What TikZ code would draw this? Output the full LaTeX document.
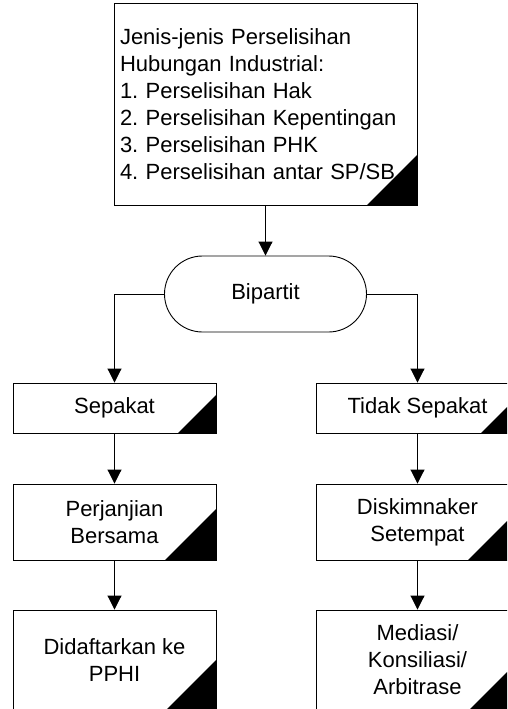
\documentclass[tikz,border=0pt]{standalone}
\usepackage{fontspec}
\setmainfont{Liberation Sans}
\usetikzlibrary{arrows.meta}
\newcommand\diagfont{\fontsize{22pt}{27pt}\selectfont\frenchspacing}
\tikzset{
  line/.style={line width=0.9pt, draw=black},
  arr/.style={line, -{Triangle[width=14pt,length=14pt]}},
  stepbox/.style={line, rectangle, minimum width=203pt, align=center,
    inner sep=0pt, font=\diagfont},
  corner/.style={path picture={
    \fill ([xshift=-#1]path picture bounding box.south east)
      -- (path picture bounding box.south east)
      -- ([yshift=#1]path picture bounding box.south east) -- cycle;}},
  terminal/.style={line, rectangle, rounded corners=38pt, minimum width=202pt,
    minimum height=76pt, font=\diagfont, inner sep=0pt},
}
\begin{document}
\begin{tikzpicture}[x=1pt,y=-1pt]
  \useasboundingbox (0,0) rectangle (507,709);
  \clip (0,0) rectangle (507,709);
  \fill[white] (0,0) rectangle (507,709);

  % list of dispute types
  \node[line, rectangle, corner=50pt, text width=291pt, inner xsep=6pt,
        inner ysep=0pt, minimum height=202pt, align=left, font=\diagfont]
    (types) at (265.5,104)
    {Jenis-jenis Perselisihan\\Hubungan Industrial:\\1. Perselisihan Hak\\
     2. Perselisihan Kepentingan\\3. Perselisihan PHK\\4. Perselisihan antar SP/SB};

  % bipartite negotiation
  \node[terminal] (bip) at (265.5,294) {Bipartit};

  % agreement branch
  \node[stepbox, corner=38pt, minimum height=50pt] (sep) at (114.5,408) {Sepakat};
  \node[stepbox, corner=51pt, minimum height=76pt] (perj) at (114.5,522) {Perjanjian\\Bersama};
  \node[stepbox, corner=50pt, minimum height=100pt] (daf) at (114.5,660) {Didaftarkan ke\\PPHI};

  % disagreement branch
  \node[stepbox, corner=38pt, minimum height=50pt] (tsep) at (417.5,408) {Tidak Sepakat};
  \node[stepbox, corner=51pt, minimum height=76pt] (disk) at (417.5,522) {Diskimnaker\\Setempat};
  \node[stepbox, corner=50pt, minimum height=100pt] (med) at (417.5,660) {Mediasi/\\Konsiliasi/\\Arbitrase};

  % connectors
  \draw[arr] (types.south) -- (bip.north);
  \draw[arr] (bip.west) -| (sep.north);
  \draw[arr] (bip.east) -| (tsep.north);
  \draw[arr] (sep.south) -- (perj.north);
  \draw[arr] (perj.south) -- (daf.north);
  \draw[arr] (tsep.south) -- (disk.north);
  \draw[arr] (disk.south) -- (med.north);
\end{tikzpicture}
\end{document}
